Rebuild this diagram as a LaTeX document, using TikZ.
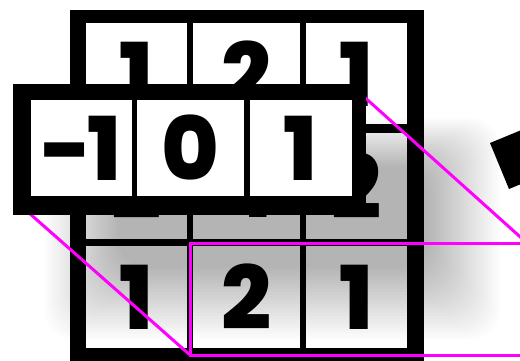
\documentclass[tikz,border=0pt]{standalone}
\usepackage{fontspec}
\newfontfamily\digitfont{Poppins}[UprightFont={* ExtraBold}]
\definecolor{projmag}{RGB}{255, 0, 255}

\begin{document}
\begin{tikzpicture}[
  x=1pt, y=-1pt,
  every node/.style={inner sep=0pt, outer sep=0pt},
  numcell/.style={fill=white, font=\digitfont\fontsize{88}{88}\selectfont},
  gridframe/.style={fill=black},
  projline/.style={draw=projmag, line width=3pt},
  shadowlayer/.style={fill=black, opacity=0.012, rounded corners=30pt}
]
\useasboundingbox (0,0) rectangle (520,361);
\clip (0,0) rectangle (520,361);
\fill[white] (0,0) rectangle (520,361);
% image grid
\fill[gridframe] (70,10) rectangle (424,364);
\node[numcell, minimum width=101pt, minimum height=101pt] (g11) at (136.5,74) {1};
\node[numcell, minimum width=107pt, minimum height=101pt] (g12) at (246.5,74) {2};
\node[numcell, minimum width=101pt, minimum height=101pt] (g13) at (356.5,74) {1};
\node[numcell, minimum width=101pt, minimum height=106pt] (g21) at (136.5,186) {2};
\node[numcell, minimum width=107pt, minimum height=106pt] (g22) at (246.5,186) {4};
\node[numcell, minimum width=101pt, minimum height=106pt] (g23) at (356.5,186) {2};
\node[numcell, minimum width=101pt, minimum height=102pt] (g31) at (136.5,297) {1};
\node[numcell, minimum width=107pt, minimum height=102pt] (g32) at (246.5,297) {2};
\node[numcell, minimum width=101pt, minimum height=102pt] (g33) at (356.5,297) {1};
% soft shadow of the kernel
\foreach \i in {0,...,24} {\fill[shadowlayer] (45+3*\i, 118+2*\i) rectangle (500-3*\i, 340-3*\i);}
% projection onto the grid
\node[projline, minimum width=337pt, minimum height=112pt] (target) at (358.5,299) {};
\coordinate (kTR) at (352,86);
\coordinate (kBL) at (20,205);
\draw[projline] (kTR) -- (target.north east);
\draw[projline] (kBL) -- (target.south west);
% kernel
\fill[gridframe] (13,84) rectangle (366,215);
\node[numcell, minimum width=101pt, minimum height=95pt] (k1) at (81.5,148) {-\kern-5pt1};
\node[numcell, minimum width=107pt, minimum height=95pt] (k2) at (190.5,148) {0};
\node[numcell, minimum width=102pt, minimum height=95pt] (k3) at (301,148) {1};
% tilted block at the edge
\fill[black] (490,143) -- (536,124) -- (555,170) -- (509,189) -- cycle;
\end{tikzpicture}
\end{document}
